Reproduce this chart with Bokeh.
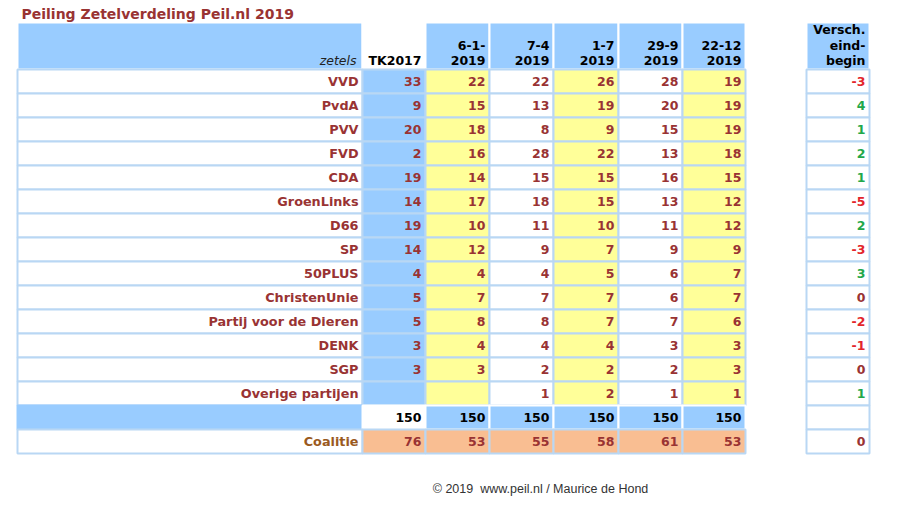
from bokeh.plotting import figure
from bokeh.models import Range1d, ColumnDataSource
from bokeh.core.properties import value
from bokeh.embed import file_html
from bokeh.resources import INLINE

# ---- data ----
title = "Peiling Zetelverdeling Peil.nl 2019"
parties = ["VVD", "PvdA", "PVV", "FVD", "CDA", "GroenLinks", "D66", "SP", "50PLUS",
           "ChristenUnie", "Partij voor de Dieren", "DENK", "SGP", "Overige partijen"]
col_headers = [["TK2017"], ["6-1-", "2019"], ["7-4", "2019"], ["1-7", "2019"],
               ["29-9", "2019"], ["22-12", "2019"]]
tk2017 = [33, 9, 20, 2, 19, 14, 19, 14, 4, 5, 5, 3, 3, None]
p_0601 = [22, 15, 18, 16, 14, 17, 10, 12, 4, 7, 8, 4, 3, None]
p_0704 = [22, 13, 8, 28, 15, 18, 11, 9, 4, 7, 8, 4, 2, 1]
p_0107 = [26, 19, 9, 22, 15, 15, 10, 7, 5, 7, 7, 4, 2, 2]
p_2909 = [28, 20, 15, 13, 16, 13, 11, 9, 6, 6, 7, 3, 2, 1]
p_2212 = [19, 19, 19, 18, 15, 12, 12, 9, 7, 7, 6, 3, 3, 1]
diff = [-3, 4, 1, 2, 1, -5, 2, -3, 3, 0, -2, -1, 0, 1]
totals = [150, 150, 150, 150, 150, 150]
coalitie = [76, 53, 55, 58, 61, 53]
coalitie_diff = 0
diff_header = ["Versch.", "eind-", "begin"]
footer = "\u00a9 2019\u00a0 www.peil.nl / Maurice de Hond"

series = [tk2017, p_0601, p_0704, p_0107, p_2909, p_2212]

# ---- layout (pixel geometry) ----
W, H = 900, 505
p = figure(width=W, height=H, x_range=Range1d(0, W), y_range=Range1d(H, 0),
           output_backend="svg", toolbar_location=None, min_border=0)
p.axis.visible = False
p.grid.visible = False
p.outline_line_color = None
p.background_fill_color = "white"

BLUE = "#99CCFF"
YELLOW = "#FFFF99"
ORANGE = "#F9BE92"
GRIDC = "#B9D7F4"
DARKRED = "#993333"
FONT = "DejaVu Sans"

name_l, name_r = 17, 362
col_edges = [362, 425, 489, 553, 618, 682, 745]
diff_l, diff_r = 806, 869
head_top, head_bot = 22, 69
row_h = 24
n = len(parties)
col_fill = [BLUE, YELLOW, "white", YELLOW, "white", YELLOW]

L, R, T, B, F, LC = [], [], [], [], [], []
def cell(l, r, t, b, f, lc):
    L.append(l); R.append(r); T.append(t); B.append(b); F.append(f); LC.append(lc)

# header
cell(name_l, name_r, head_top, head_bot, BLUE, "white")
for j in range(6):
    cell(col_edges[j], col_edges[j + 1], head_top, head_bot, "white" if j == 0 else BLUE, "white")
cell(diff_l, diff_r, head_top, head_bot, BLUE, "white")
# body rows
for i in range(n):
    t = head_bot + i * row_h
    cell(name_l, name_r, t, t + row_h, "white", GRIDC)
    for j in range(6):
        cell(col_edges[j], col_edges[j + 1], t, t + row_h, col_fill[j], GRIDC)
    cell(diff_l, diff_r, t, t + row_h, "white", GRIDC)
# totals row
t = head_bot + n * row_h
cell(name_l, name_r, t, t + row_h, BLUE, BLUE)
for j in range(6):
    cell(col_edges[j], col_edges[j + 1], t, t + row_h, "white" if j == 0 else BLUE, "white")
cell(diff_l, diff_r, t, t + row_h, "white", GRIDC)
# coalitie row
t = head_bot + (n + 1) * row_h
cell(name_l, name_r, t, t + row_h, "white", GRIDC)
for j in range(6):
    cell(col_edges[j], col_edges[j + 1], t, t + row_h, ORANGE, GRIDC)
cell(diff_l, diff_r, t, t + row_h, "white", GRIDC)

p.quad(left=L, right=R, top=T, bottom=B, fill_color=F, line_color=LC, line_width=2)

# ---- texts ----
NX, NY, NT = [], [], []
TX, TY, TT, TC = [], [], [], []
def txt(x, y, s, c):
    TX.append(x); TY.append(y); TT.append(s); TC.append(c)

for i, name in enumerate(parties):
    yc = head_bot + i * row_h + row_h / 2
    NX.append(name_r - 4); NY.append(yc); NT.append(name)
    for j in range(6):
        v = series[j][i]
        if v is not None:
            txt(col_edges[j + 1] - 4, yc, str(v), DARKRED)
    d = diff[i]
    dc = "#E3262B" if d < 0 else ("#22A84A" if d > 0 else DARKRED)
    txt(diff_r - 4, yc, str(d), dc)

yc = head_bot + n * row_h + row_h / 2
for j in range(6):
    txt(col_edges[j + 1] - 4, yc, str(totals[j]), "black")
yc = head_bot + (n + 1) * row_h + row_h / 2
for j in range(6):
    txt(col_edges[j + 1] - 4, yc, str(coalitie[j]), DARKRED)
txt(diff_r - 4, yc, str(coalitie_diff), DARKRED)

src = ColumnDataSource(dict(x=TX, y=TY, text=TT, c=TC))
p.text(x="x", y="y", text="text", text_color="c", source=src, text_align="right",
       text_baseline="middle", text_font=value(FONT), text_font_style="bold",
       text_font_size="12.5px")

# party names
p.text(x=NX, y=NY, text=NT, text_color=DARKRED, text_align="right",
       text_baseline="middle", text_font=value(FONT), text_font_style="bold",
       text_font_size="12.8px")

# Coalitie label
p.text(x=[name_r - 4], y=[head_bot + (n + 1) * row_h + row_h / 2], text=["Coalitie"],
       text_color="#9A5A1E", text_align="right", text_baseline="middle",
       text_font=value(FONT), text_font_style="bold", text_font_size="12.8px")

# headers
HX, HY, HT = [], [], []
for j, lines in enumerate(col_headers):
    k = len(lines)
    for m, s in enumerate(lines):
        HX.append(col_edges[j + 1] - 4)
        HY.append(60 - (k - 1 - m) * 15.5)
        HT.append(s)
for m, s in enumerate(diff_header):
    HX.append(diff_r - 4)
    HY.append(60 - (2 - m) * 15.5)
    HT.append(s)
p.text(x=HX, y=HY, text=HT, text_color="black", text_align="right", text_baseline="middle",
       text_font=value(FONT), text_font_style="bold", text_font_size="12.5px")
p.text(x=[name_r - 6], y=[60], text=["zetels"], text_color="#222222", text_align="right",
       text_baseline="middle", text_font=value(FONT), text_font_style="italic",
       text_font_size="12.5px")

# title and footer
p.text(x=[21], y=[13], text=[title], text_color=DARKRED, text_align="left",
       text_baseline="middle", text_font=value(FONT), text_font_style="bold",
       text_font_size="14px")
p.text(x=[540], y=[488], text=[footer], text_color="#333333", text_align="center",
       text_baseline="middle", text_font=value("Liberation Sans"), text_font_size="12.5px")

open("out.html", "w").write(file_html(p, INLINE))
